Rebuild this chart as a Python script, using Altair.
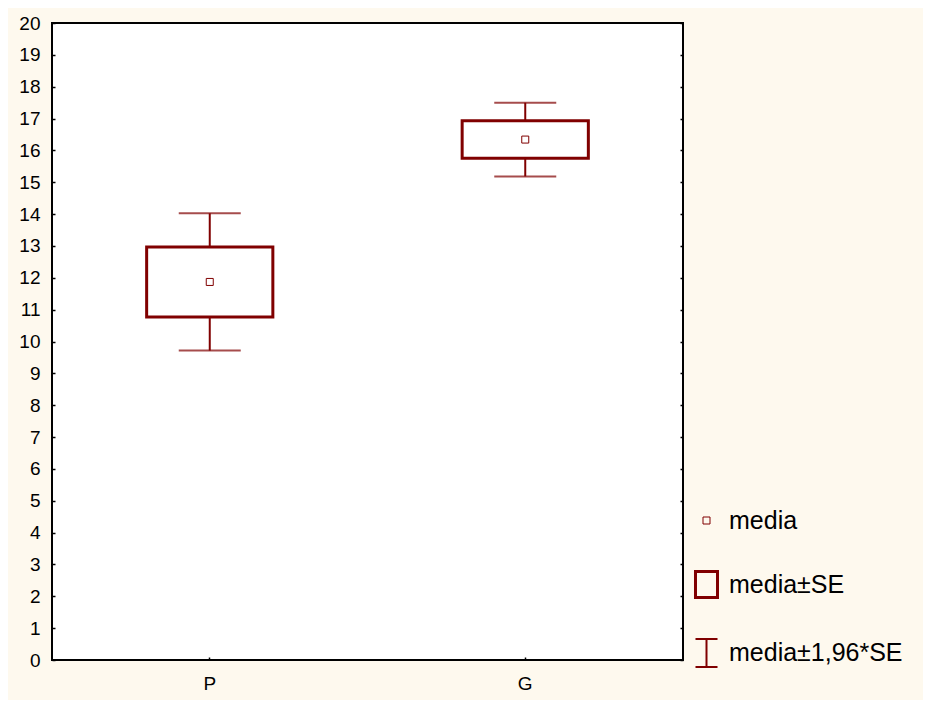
import altair as alt
import pandas as pd

categories = ["P", "G"]
means = [11.87, 16.34]
se = [1.10, 0.59]
series_names = ["media", "media±SE", "media±1,96*SE"]

rows = []
for c, m, s in zip(categories, means, se):
    rows.append({"cat": c, "mean": m, "lo1": m - s, "hi1": m + s,
                 "lo2": m - 1.96 * s, "hi2": m + 1.96 * s, "series": "media"})
df = pd.DataFrame(rows)

RED = "#800000"
FONT = "Liberation Sans"

xscale = alt.Scale(domain=categories, paddingInner=0, paddingOuter=0)
yscale = alt.Scale(domain=[0, 20], nice=False, zero=True)

x_enc = alt.X("cat:N", scale=xscale, sort=categories, title=None,
              axis=alt.Axis(labelAngle=0, offset=-3, tickSize=3, domain=False,
                            labelFontSize=19, labelFont=FONT, labelColor="black",
                            tickColor="black", tickWidth=1.5, labelPadding=14, grid=False))

yaxis_left = alt.Axis(values=list(range(0, 21)), offset=-3, tickSize=3, domain=False,
                      labelFontSize=19, labelFont=FONT, labelColor="black",
                      tickColor="black", tickWidth=1.5, labelPadding=12, grid=False)
yaxis_right = alt.Axis(orient="right", values=list(range(0, 21)), offset=-3, tickSize=3,
                       domain=False, labels=False, tickColor="black", tickWidth=1.5, grid=False)

base = alt.Chart(df)

whisk_up = base.mark_rule(color=RED, strokeWidth=2).encode(
    x=x_enc, y=alt.Y("hi1:Q", scale=yscale, title=None, axis=yaxis_left), y2="hi2:Q")
whisk_dn = base.mark_rule(color=RED, strokeWidth=2).encode(
    x=x_enc, y=alt.Y("lo2:Q", scale=yscale, title=None, axis=yaxis_left), y2="lo1:Q")
cap_hi = base.mark_tick(color=RED, thickness=2, size=62, orient="horizontal").encode(
    x=x_enc, y=alt.Y("hi2:Q", scale=yscale, title=None, axis=yaxis_left))
cap_lo = base.mark_tick(color=RED, thickness=2, size=62, orient="horizontal").encode(
    x=x_enc, y=alt.Y("lo2:Q", scale=yscale, title=None, axis=yaxis_left))
box = base.mark_bar(fill="white", stroke=RED, strokeWidth=3,
                    width=alt.RelativeBandSize(0.4)).encode(
    x=x_enc, y=alt.Y("lo1:Q", scale=yscale, title=None, axis=yaxis_left), y2="hi1:Q")

paths = [
    "M-0.25,-0.25H0.25V0.25H-0.25Z",
    "M-0.786,-0.93H0.786V0.93H-0.786Z",
    "M-0.786,-1H0.786M0,-1V1M-0.786,1H0.786",
]

legend_opts = dict(title=None, orient="none", legendX=639, legendY=483,
                   symbolSize=784, rowPadding=31, labelOffset=7,
                   labelFontSize=25, labelFont=FONT, labelColor="black",
                   labelLimit=400, padding=0,
                   symbolStrokeColor=RED, symbolFillColor="transparent",
                   symbolOpacity=1)

mean_pt = base.mark_point(filled=False, color=RED, size=784, opacity=1).encode(
    x=x_enc,
    y=alt.Y("mean:Q", scale=yscale, title=None, axis=yaxis_left),
    shape=alt.Shape("series:N", scale=alt.Scale(domain=series_names, range=paths),
                    legend=alt.Legend(**legend_opts)),
    strokeWidth=alt.StrokeWidth("series:N",
                                scale=alt.Scale(type="ordinal", domain=series_names,
                                                range=[1, 3, 2]),
                                legend=alt.Legend(**legend_opts)),
)

right_axis = base.mark_point(opacity=0).encode(
    x=x_enc, y=alt.Y("mean:Q", scale=yscale, title=None, axis=yaxis_right))

left = alt.layer(box, whisk_up, whisk_dn, cap_hi, cap_lo, mean_pt)
chart = alt.layer(left, right_axis).resolve_axis(y="independent").properties(
    width=631, height=637,
    background="#FEF9EE",
    padding={"left": 44, "top": 15, "right": 240, "bottom": 40},
    autosize=alt.AutoSizeParams(type="none"),
).configure_view(stroke="black", strokeWidth=2, fill="white")

chart.save("out.html", embed_options={"renderer": "svg", "actions": False})
